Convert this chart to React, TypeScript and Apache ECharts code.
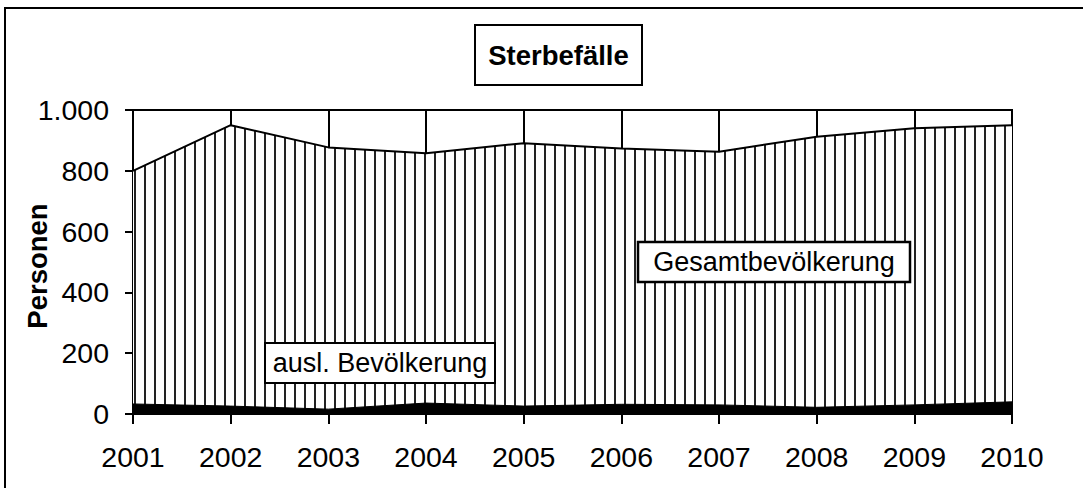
import React, { useEffect, useRef } from "react";
import * as echarts from "echarts";

const years = ["2001", "2002", "2003", "2004", "2005", "2006", "2007", "2008", "2009", "2010"];
const gesamt = [800, 950, 877, 858, 891, 873, 863, 912, 940, 950];
const ausl = [33, 26, 16, 36, 26, 32, 30, 22, 30, 40];
const yTicks = [0, 200, 400, 600, 800, 1000];

const FONT = "'Liberation Sans', Arial, sans-serif";
const TICK_FS = 28.5;

function makeStripe(): string {
  const c = document.createElement("canvas");
  c.width = 10;
  c.height = 10;
  const ctx = c.getContext("2d")!;
  ctx.fillStyle = "#ffffff";
  ctx.fillRect(0, 0, 10, 10);
  ctx.fillStyle = "#222222";
  ctx.fillRect(4, 0, 2, 10);
  return c.toDataURL();
}

export default function App() {
  const ref = useRef<HTMLDivElement>(null);
  useEffect(() => {
    document.body.style.margin = "0";
    const chart = echarts.init(ref.current!, null, { renderer: "svg" });
    const stripe = makeStripe();
    chart.setOption({
      animation: false,
      backgroundColor: "#ffffff",
      grid: {
        left: 133,
        right: 71,
        top: 110,
        bottom: 74,
        show: true,
        borderColor: "#000",
        borderWidth: 2,
        backgroundColor: "transparent",
      },
      xAxis: {
        type: "category",
        data: years,
        boundaryGap: false,
        axisLine: { show: true, lineStyle: { color: "#000", width: 2 } },
        axisTick: { show: true, length: 10, lineStyle: { color: "#000", width: 2 } },
        axisLabel: { color: "#000", fontSize: TICK_FS, fontFamily: FONT, margin: 28 },
        splitLine: { show: true, lineStyle: { color: "#000", width: 2 } },
      },
      yAxis: {
        type: "value",
        min: yTicks[0],
        max: yTicks[yTicks.length - 1],
        interval: 200,
        axisLine: { show: true, lineStyle: { color: "#000", width: 2 } },
        axisTick: { show: true, length: 8, lineStyle: { color: "#000", width: 2 } },
        axisLabel: {
          color: "#000",
          fontSize: TICK_FS,
          fontFamily: FONT,
          margin: 24,
          formatter: (v: number) => (v >= 1000 ? v.toLocaleString("de-DE") : String(v)),
        },
        splitLine: { show: false },
      },
      series: [
        {
          name: "Gesamtbevölkerung",
          type: "line",
          data: gesamt,
          symbol: "none",
          lineStyle: { color: "#000", width: 2 },
          areaStyle: {
            opacity: 1,
            color: { image: stripe, repeat: "repeat", imageWidth: 10, imageHeight: 10 } as any,
          },
          z: 2,
        },
        {
          name: "ausl. Bevölkerung",
          type: "line",
          data: ausl,
          symbol: "none",
          lineStyle: { color: "#000", width: 1 },
          areaStyle: { color: "#000", opacity: 1 },
          z: 3,
        },
      ],
      graphic: [
        {
          type: "rect",
          shape: { x: 5, y: 8, width: 1200, height: 600 },
          style: { fill: "none", stroke: "#000", lineWidth: 2 },
          z: 10,
        },
        {
          type: "rect",
          shape: { x: 475, y: 25, width: 167, height: 60 },
          style: { fill: "#fff", stroke: "#000", lineWidth: 2 },
          z: 10,
        },
        {
          type: "text",
          x: 558.5,
          y: 55,
          style: {
            text: "Sterbefälle",
            fill: "#000",
            font: `bold 27.5px ${FONT}`,
            align: "center",
            verticalAlign: "middle",
          },
          z: 11,
        },
        {
          type: "text",
          x: 37,
          y: 266,
          rotation: Math.PI / 2,
          style: {
            text: "Personen",
            fill: "#000",
            font: `bold 27.5px ${FONT}`,
            align: "center",
            verticalAlign: "middle",
          },
          z: 11,
        },
        {
          type: "rect",
          shape: { x: 638, y: 242, width: 272, height: 40 },
          style: { fill: "#fff", stroke: "#000", lineWidth: 2.5 },
          z: 10,
        },
        {
          type: "text",
          x: 774,
          y: 262,
          style: {
            text: "Gesamtbevölkerung",
            fill: "#000",
            font: `27px ${FONT}`,
            align: "center",
            verticalAlign: "middle",
          },
          z: 11,
        },
        {
          type: "rect",
          shape: { x: 265, y: 343, width: 230, height: 40 },
          style: { fill: "#fff", stroke: "#000", lineWidth: 2 },
          z: 10,
        },
        {
          type: "text",
          x: 380,
          y: 363,
          style: {
            text: "ausl. Bevölkerung",
            fill: "#000",
            font: `27px ${FONT}`,
            align: "center",
            verticalAlign: "middle",
          },
          z: 11,
        },
      ],
    });
    return () => chart.dispose();
  }, []);
  return (
    <div
      ref={ref}
      style={{ position: "fixed", left: 0, top: 0, width: 1083, height: 488 }}
    />
  );
}
